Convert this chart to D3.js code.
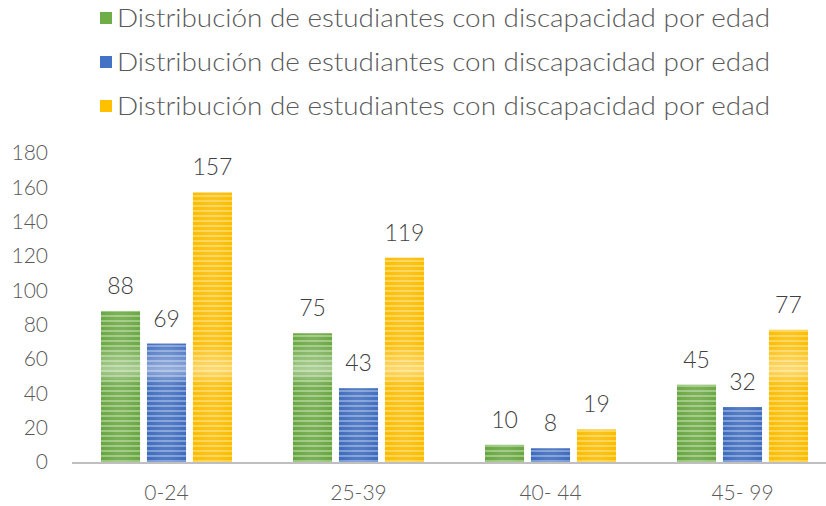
<!DOCTYPE html>
<html><head><meta charset="utf-8">
<script src="https://cdn.jsdelivr.net/npm/d3@7"></script>
<style>body{margin:0;background:#fff}svg{display:block}</style>
</head><body><svg id="c" width="826" height="506"></svg>
<script>
const categories = ["0-24", "25-39", "40- 44", "45- 99"];
const seriesNames = ["Distribución de estudiantes con discapacidad por edad","Distribución de estudiantes con discapacidad por edad","Distribución de estudiantes con discapacidad por edad"];
const seriesA = [88, 75, 10, 45];
const seriesB = [69, 43, 8, 32];
const seriesC = [157, 119, 19, 77];
const yTicks = [0,20,40,60,80,100,120,140,160,180];
const colors = ["#70ad47","#4472c4","#ffc000"];
const darks = ["#68a640","#3e6bbd","#fbbc00"];

const svg = d3.select("#c");
const font = "'Century Gothic', Lato, 'Open Sans', sans-serif";
const M = {l:70.5, r:838.5, t:153, b:462};
const x0 = d3.scaleBand().domain(categories).range([M.l, M.r]);
const x1 = d3.scaleBand().domain([0,1,2]).range([0,131]).paddingInner(0.15);
const y = d3.scaleLinear().domain([0,180]).range([M.b, M.t]);

const defs = svg.append("defs");
colors.forEach((c,i)=>{
  const p = defs.append("pattern").attr("id","p"+i).attr("patternUnits","userSpaceOnUse")
    .attr("width",10).attr("height",5).attr("y", 2);
  p.append("rect").attr("width",10).attr("height",5).attr("fill",darks[i]);
  p.append("rect").attr("y",3).attr("width",10).attr("height",2).attr("fill",d3.interpolateRgb(c,"#fff")(0.3));
});
const g = defs.append("linearGradient").attr("id","shine").attr("gradientUnits","userSpaceOnUse")
  .attr("x1",0).attr("x2",0).attr("y1",M.t).attr("y2",M.b);
[[0,0],[0.62,0.03],[0.70,0.4],[0.75,0.03],[1,0]].forEach(s=>g.append("stop").attr("offset",s[0]).attr("stop-color","#fff").attr("stop-opacity",s[1]));
const hg = defs.append("linearGradient").attr("id","hshine").attr("x1",0).attr("x2",1).attr("y1",0).attr("y2",0);
[[0,0],[0.4,0.1],[0.6,0.1],[1,0]].forEach(s=>hg.append("stop").attr("offset",s[0]).attr("stop-color","#fff").attr("stop-opacity",s[1]));

// y axis labels
svg.append("g").selectAll("text").data(yTicks).join("text")
  .attr("x",48).attr("y",d=>y(d)).attr("dy","0.35em").attr("text-anchor","end")
  .attr("font-family",font).attr("font-weight",300).attr("font-size",21).attr("fill","#595959").text(d=>d);

const series = [seriesA, seriesB, seriesC];
const groups = svg.append("g").selectAll("g").data(categories).join("g")
  .attr("transform",d=>`translate(${x0(d)+x0.bandwidth()/2-65.5},0)`);
series.forEach((s,si)=>{
  ["url(#p"+si+")","url(#shine)","url(#hshine)"].forEach(f=>{
    groups.append("rect").attr("x",x1(si)).attr("width",x1.bandwidth())
      .attr("y",(d,i)=>y(s[i])).attr("height",(d,i)=>y(0)-y(s[i])).attr("fill",f);
  });
  groups.append("text").attr("x",x1(si)+x1.bandwidth()/2).attr("y",(d,i)=>y(s[i])-17)
    .attr("text-anchor","middle").attr("font-family",font).attr("font-weight",300).attr("font-size",23).attr("fill","#404040")
    .text((d,i)=>s[i]);
});

// x axis line
svg.append("line").attr("x1",72).attr("x2",826).attr("y1",y(0)+1).attr("y2",y(0)+1)
  .attr("stroke","#bfbfbf").attr("stroke-width",2);
svg.append("g").selectAll("text").data(categories).join("text")
  .attr("x",d=>x0(d)+x0.bandwidth()/2).attr("y",493).attr("dy","0.35em").attr("text-anchor","middle")
  .attr("font-family",font).attr("font-weight",300).attr("font-size",21).attr("fill","#595959").text(d=>d);

// legend
const lg = svg.append("g").selectAll("g").data(seriesNames).join("g")
  .attr("transform",(d,i)=>`translate(0,${18+i*44})`);
lg.append("rect").attr("x",100).attr("y",-6).attr("width",12).attr("height",12).attr("fill",(d,i)=>colors[i]);
lg.append("text").attr("x",117).attr("y",0).attr("dy","0.35em").attr("font-family",font).attr("font-weight",300)
  .attr("font-size",25).attr("fill","#595959").attr("textLength",653).attr("lengthAdjust","spacingAndGlyphs").text(d=>d);
</script></body></html>
